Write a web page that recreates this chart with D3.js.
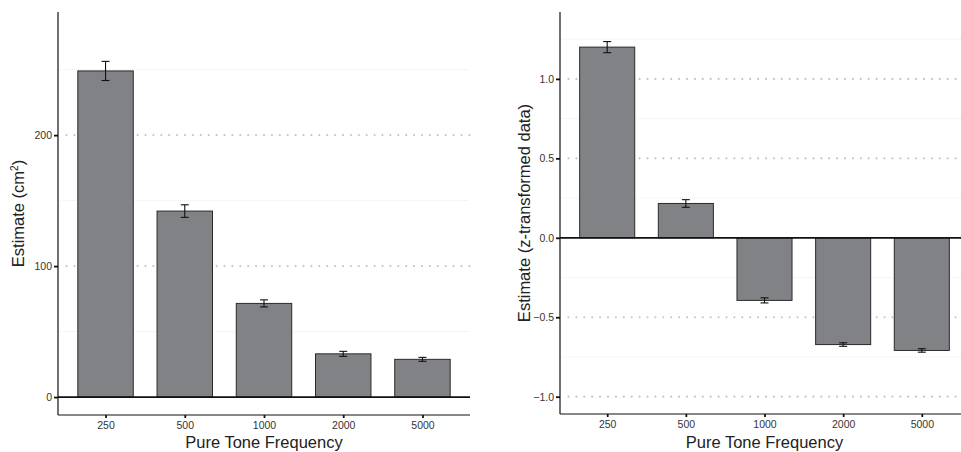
<!DOCTYPE html>
<html>
<head>
<meta charset="utf-8">
<script src="https://cdn.jsdelivr.net/npm/d3@7"></script>
<style>
  body { margin: 0; background: #fff; }
  svg { display: block; font-family: "Liberation Sans", Arial, Helvetica, sans-serif; }
</style>
</head>
<body>
<div id="chart"></div>
<script>
// data
const frequencies = ["250", "500", "1000", "2000", "5000"];

// left panel: raw estimates (cm²)
const rawEstimate = [249, 142, 71.5, 33, 28.8];
const rawError = [7.3, 4.8, 2.7, 1.9, 1.5];
const rawMajorTicks = [0, 100, 200];
const rawMinorTicks = [50, 150, 250];

// right panel: z-transformed estimates
const zEstimate = [1.20, 0.216, -0.394, -0.672, -0.709];
const zError = [0.035, 0.024, 0.016, 0.011, 0.011];
const zMajorTicks = [-1.0, -0.5, 0.0, 0.5, 1.0];
const zMinorTicks = [-0.75, -0.25, 0.25, 0.75, 1.25];

const W = 961, H = 452;

const svg = d3.select("#chart")
    .append("svg")
    .attr("width", W)
    .attr("height", H);

function drawPanel(cfg) {
    let g = svg.append("g");

    // ggplot-style discrete expansion: 0.6 units each side
    let unit = (cfg.right - cfg.left) / (cfg.cats.length - 1 + 1.2);
    let x = d3.scalePoint()
        .domain(cfg.cats)
        .range([cfg.left + 0.6 * unit, cfg.right - 0.6 * unit]);
    let barW = unit * 0.7;

    let y = d3.scaleLinear()
        .domain(cfg.yDomain)
        .range([cfg.bottom, cfg.top]);

    // minor grid
    g.selectAll(".minor")
        .data(cfg.minor)
        .enter().append("line")
        .attr("x1", cfg.left).attr("x2", cfg.right)
        .attr("y1", d => y(d)).attr("y2", d => y(d))
        .attr("stroke", "#ececec")
        .attr("stroke-width", 1)
        .attr("stroke-dasharray", "1 1");

    // major grid (dotted)
    g.selectAll(".major")
        .data(cfg.major.filter(d => d !== 0))
        .enter().append("line")
        .attr("x1", cfg.left + 8.5).attr("x2", cfg.right)
        .attr("y1", d => y(d)).attr("y2", d => y(d))
        .attr("stroke", "#c6c6c6")
        .attr("stroke-width", 2.2)
        .attr("stroke-linecap", "round")
        .attr("stroke-dasharray", "0 7.9");

    // bars
    g.selectAll(".bar")
        .data(cfg.cats)
        .enter().append("rect")
        .attr("x", d => x(d) - barW / 2)
        .attr("width", barW)
        .attr("y", (d, i) => y(Math.max(0, cfg.values[i])))
        .attr("height", (d, i) => Math.abs(y(cfg.values[i]) - y(0)))
        .attr("fill", "#818286")
        .attr("stroke", "#2a2a2a")
        .attr("stroke-width", 1);

    // error bars
    let eb = g.selectAll(".err")
        .data(cfg.cats)
        .enter().append("g")
        .attr("stroke", "#111")
        .attr("stroke-width", 1.1);
    eb.append("line")
        .attr("x1", d => x(d)).attr("x2", d => x(d))
        .attr("y1", (d, i) => y(cfg.values[i] + cfg.errors[i]))
        .attr("y2", (d, i) => y(cfg.values[i] - cfg.errors[i]));
    eb.append("line")
        .attr("x1", d => x(d) - 4).attr("x2", d => x(d) + 4)
        .attr("y1", (d, i) => y(cfg.values[i] + cfg.errors[i]))
        .attr("y2", (d, i) => y(cfg.values[i] + cfg.errors[i]));
    eb.append("line")
        .attr("x1", d => x(d) - 4).attr("x2", d => x(d) + 4)
        .attr("y1", (d, i) => y(cfg.values[i] - cfg.errors[i]))
        .attr("y2", (d, i) => y(cfg.values[i] - cfg.errors[i]));

    // zero line
    g.append("line")
        .attr("x1", cfg.left).attr("x2", cfg.right)
        .attr("y1", y(0)).attr("y2", y(0))
        .attr("stroke", "#111")
        .attr("stroke-width", 1.8);

    // y axis
    let yAxis = d3.axisLeft(y)
        .tickValues(cfg.major)
        .tickSize(4)
        .tickPadding(2)
        .tickFormat(cfg.fmt);
    let ya = g.append("g")
        .attr("transform", `translate(${cfg.left},0)`)
        .call(yAxis);
    ya.select(".domain").remove();
    ya.selectAll(".tick line").attr("stroke", "#111").attr("stroke-width", 1.8);
    ya.selectAll(".tick text").attr("fill", "#333").attr("font-size", 10.5);

    g.append("line")
        .attr("x1", cfg.left).attr("x2", cfg.left)
        .attr("y1", cfg.top).attr("y2", cfg.bottom)
        .attr("stroke", "#111").attr("stroke-width", 1.2);

    // x axis
    let xAxis = d3.axisBottom(x)
        .tickSize(3)
        .tickPadding(4);
    let xa = g.append("g")
        .attr("transform", `translate(0,${cfg.bottom})`)
        .call(xAxis);
    xa.select(".domain").remove();
    xa.append("line")
        .attr("x1", cfg.left).attr("x2", cfg.right)
        .attr("stroke", "#111").attr("stroke-width", 1.2);
    xa.selectAll(".tick line").attr("stroke", "#111").attr("stroke-width", 1.8);
    xa.selectAll(".tick text").attr("fill", "#333").attr("font-size", 10.5);

    // titles
    g.append("text")
        .attr("x", (cfg.left + cfg.right) / 2)
        .attr("y", 448)
        .attr("text-anchor", "middle")
        .attr("fill", "#222")
        .attr("font-size", 16.5)
        .text("Pure Tone Frequency");

    let yt = g.append("text")
        .attr("transform", `translate(${cfg.titleX},${(cfg.top + cfg.bottom) / 2}) rotate(-90)`)
        .attr("text-anchor", "middle")
        .attr("fill", "#222")
        .attr("font-size", 16.5);
    cfg.yTitle(yt);
}

drawPanel({
    cats: frequencies,
    values: rawEstimate,
    errors: rawError,
    major: rawMajorTicks,
    minor: rawMinorTicks,
    yDomain: [-13.7, 294],
    left: 58, right: 470, top: 12, bottom: 415,
    titleX: 24,
    fmt: d3.format("d"),
    yTitle: t => {
        t.append("tspan").text("Estimate (cm");
        t.append("tspan").attr("font-size", 10).attr("dy", -6).text("2");
        t.append("tspan").attr("dy", 6).text(")");
    }
});

drawPanel({
    cats: frequencies,
    values: zEstimate,
    errors: zError,
    major: zMajorTicks,
    minor: zMinorTicks,
    yDomain: [-1.109, 1.421],
    left: 560, right: 969, top: 12, bottom: 414,
    titleX: 530,
    fmt: d => d3.format(".1f")(d).replace("-", "\u2212"),
    yTitle: t => t.text("Estimate (z-transformed data)")
});
</script>
</body>
</html>
